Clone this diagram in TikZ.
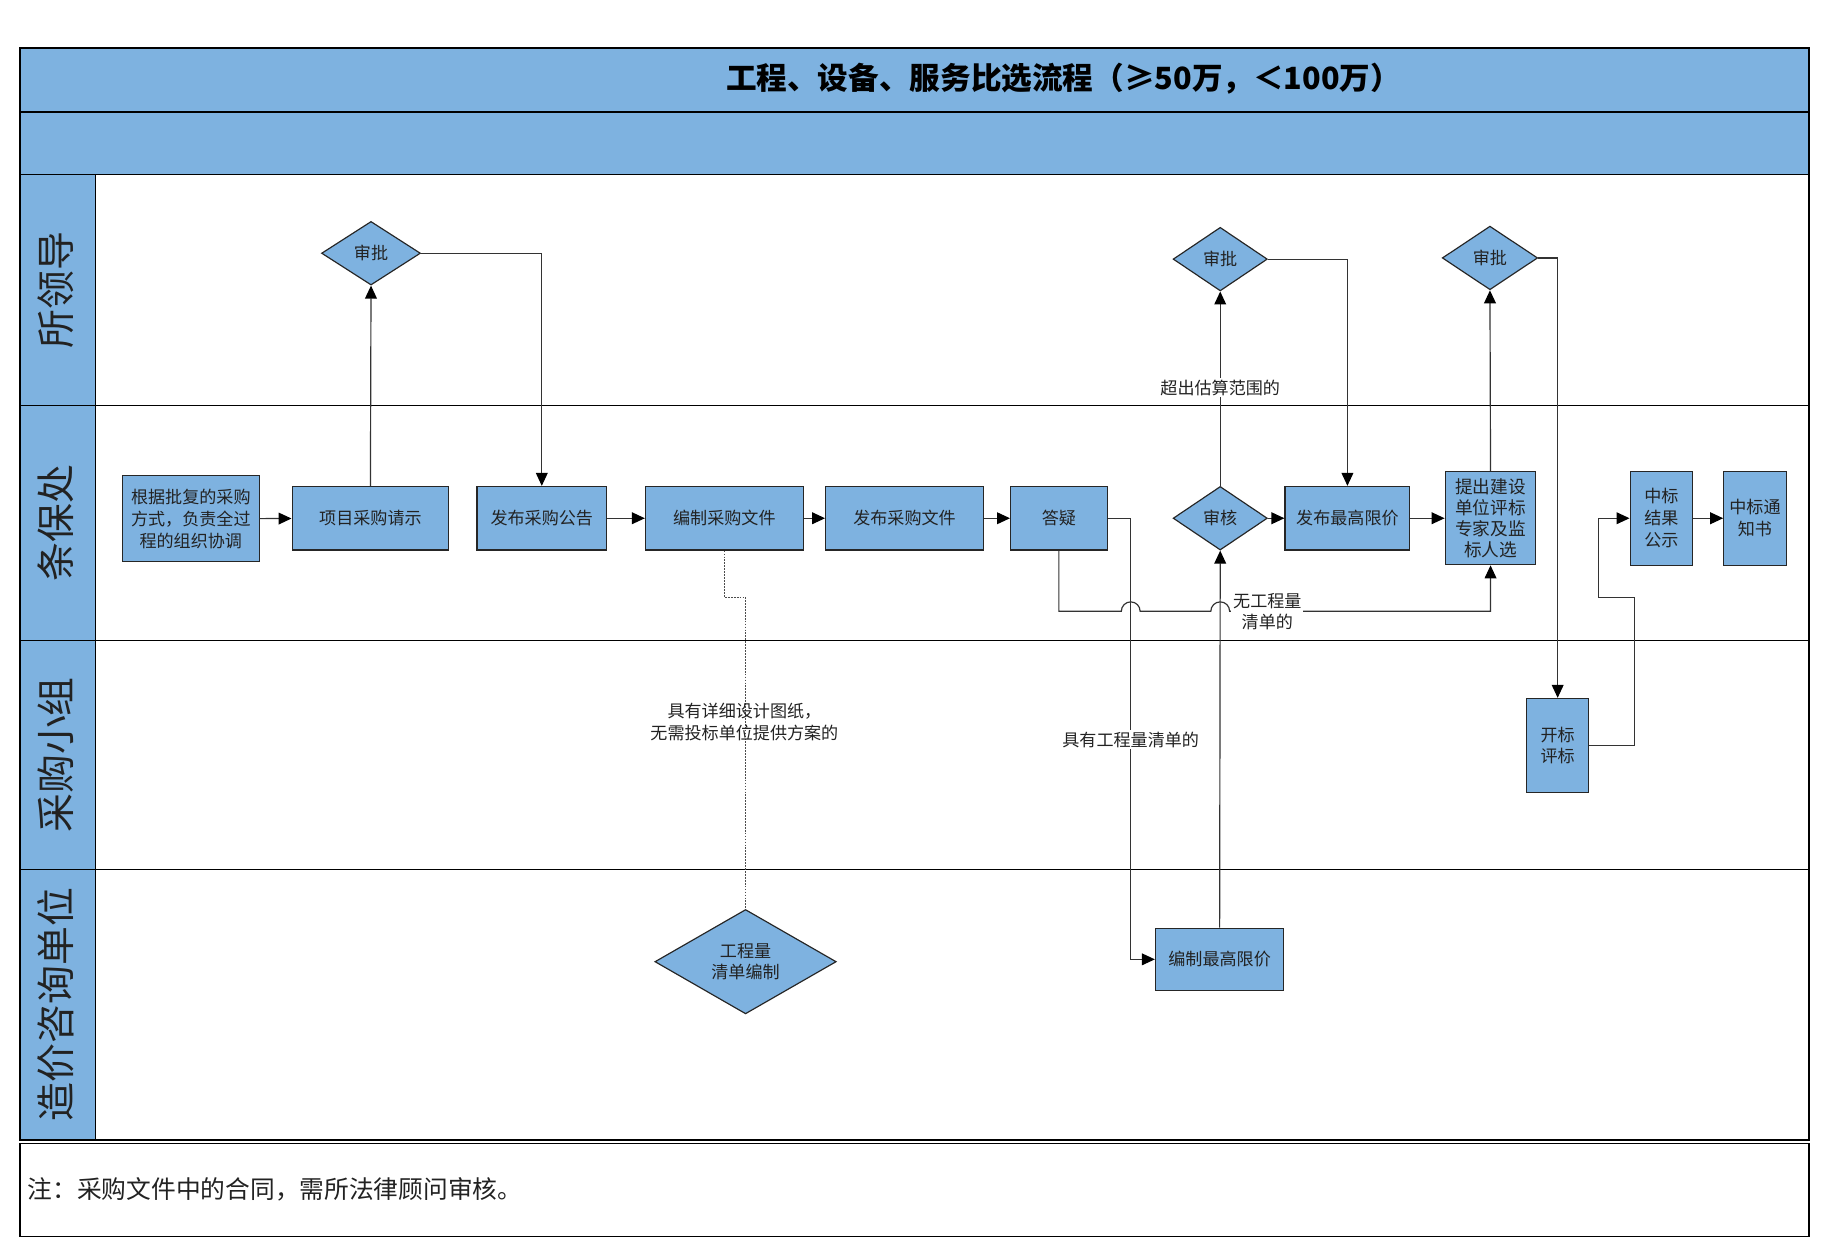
\documentclass[tikz,border=0pt]{standalone}
\usepackage{fontspec}
\setmainfont{Noto Sans CJK SC}
\usetikzlibrary{shapes.geometric,arrows.meta}
\definecolor{lblue}{RGB}{126,178,224}
\definecolor{txt}{RGB}{34,34,34}
\begin{document}
\begin{tikzpicture}[x=1pt,y=-1pt,
  proc/.style={rectangle,draw=black!85,line width=1pt,fill=lblue,inner sep=0pt,align=center,text=txt,font=\fontsize{14.5}{18.5}\selectfont},
  dec/.style={diamond,draw=black!85,line width=1pt,fill=lblue,inner sep=0pt,align=center,text=txt,font=\fontsize{14.5}{17.5}\selectfont},
  conn/.style={draw=black!80,line width=1pt,-{Triangle[length=11pt,width=10pt,color=black]}},
  dotline/.style={draw=black!70,line width=0.8pt,dash pattern=on 1.5pt off 1pt},
  lbl/.style={fill=white,inner sep=1.5pt,align=center,text=txt,font=\fontsize{14.5}{18}\selectfont},
  lane/.style={rotate=90,text=txt,font=\fontsize{33}{36}\selectfont},
]
\useasboundingbox (0,0) rectangle (1569,1065);
% bands and lanes
\fill[lblue] (17,41) rectangle (1536,148);
\fill[lblue] (17,148) rectangle (81,968);
\draw[line width=1.3pt] (17,95) -- (1536,95);
\draw[line width=1.3pt] (17,148) -- (1536,148);
\draw[line width=1pt] (17,344) -- (1536,344);
\draw[line width=1pt] (17,544) -- (1536,544);
\draw[line width=1pt] (17,738) -- (1536,738);
\draw[line width=1.2pt] (81,148) -- (81,968);
\draw[line width=1.8pt] (17,41) rectangle (1536,968);
\draw[line width=1.2pt] (17,971) rectangle (1536,1050);

\node[font=\fontsize{26}{30}\bfseries\selectfont,text=black] (title) at (903,67) {工程、设备、服务比选流程（≥50万，＜100万）};
\node[anchor=west,text=txt,font=\fontsize{21}{24}\selectfont] (note) at (20,1010) {注：采购文件中的合同，需所法律顾问审核。};

\node[lane] (L1) at (47,246) {所领导};
\node[lane] (L2) at (47,444) {条保处};
\node[lane] (L3) at (47,641) {采购小组};
\node[lane] (L4) at (47,853) {造价咨询单位};

% nodes
\node[proc,minimum width=116pt,minimum height=73pt] (a) at (162,440.5) {根据批复的采购\\方式，负责全过\\程的组织协调};
\node[proc,minimum width=133pt,minimum height=54pt] (xm) at (314.5,440) {项目采购请示};
\node[proc,minimum width=110pt,minimum height=54pt] (gg) at (460,440) {发布采购公告};
\node[proc,minimum width=134pt,minimum height=54pt] (bz) at (615,440) {编制采购文件};
\node[proc,minimum width=134pt,minimum height=54pt] (fb) at (768,440) {发布采购文件};
\node[proc,minimum width=82pt,minimum height=54pt] (dy) at (899,440) {答疑};
\node[dec,minimum width=80pt,minimum height=54pt] (sh) at (1036,440) {审核};
\node[proc,minimum width=106pt,minimum height=54pt] (zg) at (1144,440) {发布最高限价};
\node[proc,minimum width=77pt,minimum height=79pt,font=\fontsize{15}{18}\selectfont] (tc) at (1265.5,440) {提出建设\\单位评标\\专家及监\\标人选};
\node[proc,minimum width=53pt,minimum height=80pt] (gs) at (1410.5,440) {中标\\结果\\公示};
\node[proc,minimum width=53pt,minimum height=80pt] (tz) at (1490,440) {中标通\\知书};
\node[dec,minimum width=84pt,minimum height=54pt] (sp1) at (315,215) {审批};
\node[dec,minimum width=80pt,minimum height=54pt] (sp2) at (1036,220) {审批};
\node[dec,minimum width=81pt,minimum height=54pt] (sp3) at (1265,219) {审批};
\node[proc,minimum width=53pt,minimum height=80pt] (kb) at (1322.5,633) {开标\\评标};
\node[dec,minimum width=154pt,minimum height=77pt] (gcl) at (633,816.5) {工程量\\清单编制};
\node[proc,minimum width=109pt,minimum height=53pt] (zgj) at (1035.5,814.5) {编制最高限价};

% connectors
\draw[conn] (a) -- (xm);
\draw[conn] (xm.north) -- (sp1.south);
\draw[conn] (sp1.east) -| (gg.north);
\draw[conn] (gg) -- (bz);
\draw[conn] (bz) -- (fb);
\draw[conn] (fb) -- (dy);
\draw[conn] (dy.east) -- (960,440) |- (zgj.west);
\draw[conn] (zgj.north) -- (sh.south);
\draw[conn] (dy.south) |- (952,519) arc (180:360:8) -- (1028,519) arc (180:360:8) -| (tc.south);
\draw[conn] (sh.north) -- (sp2.south);
\draw[conn] (sp2.east) -| (zg.north);
\draw[conn] (sh) -- (zg);
\draw[conn] (zg) -- (tc);
\draw[conn] (tc.north) -- (sp3.south);
\draw[conn] (sp3.east) -| (kb.north);
\draw[conn] (kb.east) -- (1388,633) -- (1388,507) -- (1357,507) |- (gs.west);
\draw[conn] (gs) -- (tz);
\draw[dotline] (bz.south) -- (615,507) -- (633,507) -- (gcl.north);

% connector labels
\node[lbl] (l1) at (1036,329) {超出估算范围的};
\node[lbl] (l2) at (1076,519) {无工程量\\清单的};
\node[lbl] (l3) at (960,628) {具有工程量清单的};
\node[lbl,fill=none] (l4) at (632,613) {具有详细设计图纸，\\无需投标单位提供方案的};
\end{tikzpicture}
\end{document}
